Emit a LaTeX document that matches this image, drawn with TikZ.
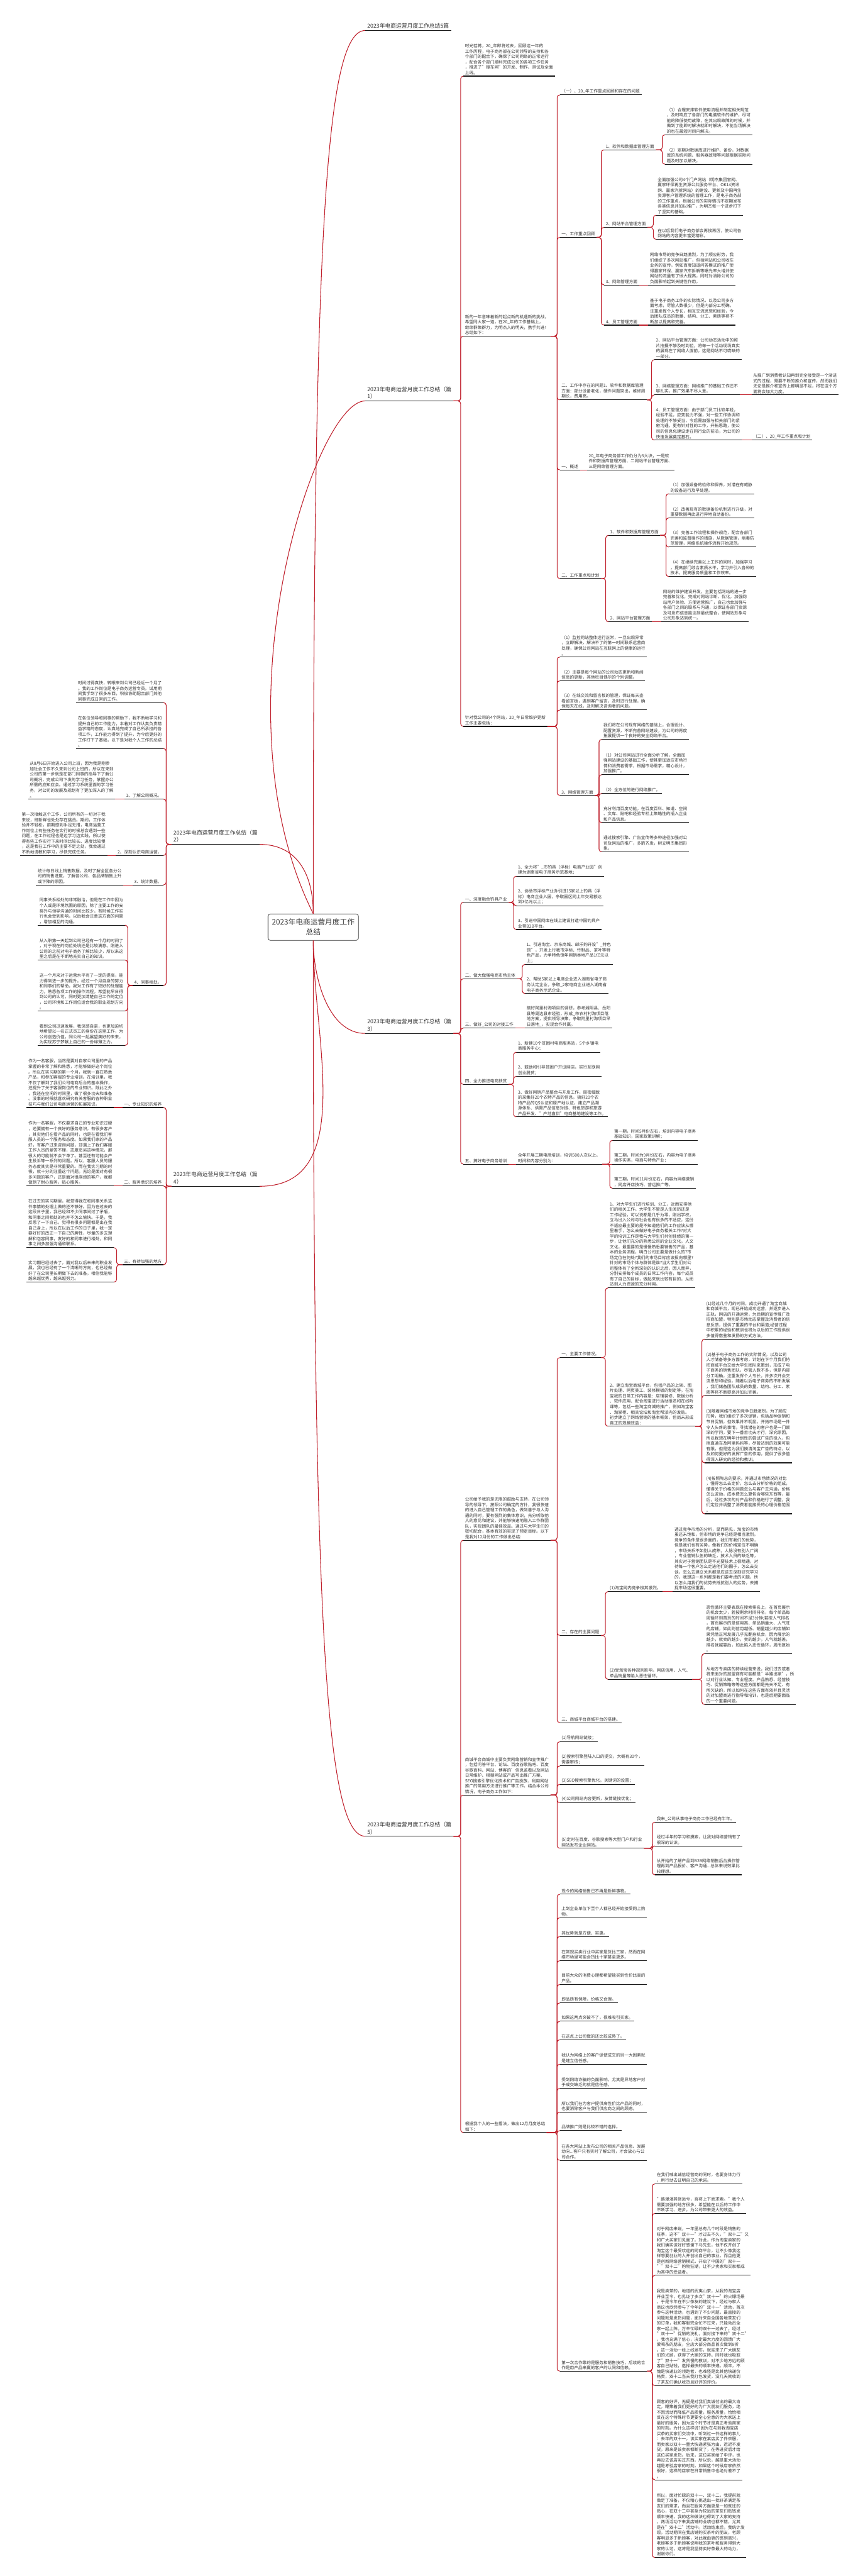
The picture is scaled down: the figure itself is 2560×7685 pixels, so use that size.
\documentclass[tikz,border=0pt]{standalone}
\usepackage{fontspec}
\setmainfont{Noto Sans CJK SC}
\usetikzlibrary{calc}
\definecolor{linkred}{RGB}{192,32,44}
\definecolor{inkgray}{RGB}{51,51,51}

\begin{document}
\begin{tikzpicture}[x=1pt, y=-1pt,
  hub/.style={draw=inkgray, line width=1.5pt, rounded corners=7pt, fill=white, align=center, font=\fontsize{22}{30}\selectfont, text=inkgray, minimum width=270pt, minimum height=79pt},
  part/.style={align=left, font=\fontsize{16.5}{22}\selectfont, text=inkgray, inner xsep=6pt, inner ysep=5pt},
  item/.style={align=left, font=\fontsize{12.5}{16}\selectfont, text=inkgray, inner xsep=5pt, inner ysep=4pt},
  rule/.style={draw=black!90, line width=2pt},
  link/.style={draw=linkred, line width=2pt, rounded corners=8pt},
]
\fill[white] (0,0) rectangle (2560,7685);
\useasboundingbox (0,0) rectangle (2560,7685);

% Root
\node[hub] (root) at (935,2766) {2023年电商运营月度工作\\总结};

% Main branches
\node[part, anchor=south west] (t0) at (1090,91) {2023年电商运营月度工作总结5篇};
\node[part, anchor=south west] (p1) at (1090,1196) {2023年电商运营月度工作总结（篇\\1）};
\node[part, anchor=south east] (p2) at (775,2519) {2023年电商运营月度工作总结（篇\\2）};
\node[part, anchor=south west] (p3) at (1090,3083) {2023年电商运营月度工作总结（篇\\3）};
\node[part, anchor=south east] (p4) at (775,3539) {2023年电商运营月度工作总结（篇\\4）};
\node[part, anchor=south west] (p5) at (1090,5478) {2023年电商运营月度工作总结（篇\\5）};

% Part 1
\node[item, anchor=south west] (a1) at (1383,227) {时光荏苒，20\_年即将过去，回顾这一年的\\工作历程，电子商务部在公司领导的支持和各\\个部门的配合下，确保了公司网络的正常运行\\，配合各个部门顺利完成公司的各项工作任务\\，推进了"搜车网"的开发、制作、测试及全面\\上线。};
\node[item, anchor=south west] (a2) at (1383,1003) {新的一年意味着新的起点新的机遇新的挑战，\\希望同大家一道，在20\_年的工作基础上，\\继续群策群力，为明杰人的明天，携手共进！\\总结如下：};
\node[item, anchor=south west] (a3) at (1383,2167) {针对我公司的4个网站，20\_年日常维护更新\\工作主要包括：};

\node[item, anchor=south west] (b1) at (1671,283) {（一）、20\_年工作重点回顾和存在的问题};
\node[item, anchor=south west] (b2) at (1671,708) {一、工作重点回顾};
\node[item, anchor=south west] (b3) at (1671,1193) {二、工作中存在的问题1、软件和数据库管理\\方面：部分设备老化，硬件问题突出，维修周\\期长，费用高。};
\node[item, anchor=south west] (b4) at (1671,1402) {一、概述};
\node[item, anchor=south west] (b5) at (1671,1726) {二、工作重点和计划};

\node[item, anchor=south west] (c1) at (1803,447) {1、软件和数据库管理方面};
\node[item, anchor=south west] (c2) at (1803,678) {2、网站平台管理方面};
\node[item, anchor=south west] (c3) at (1803,850) {3、网络管理方面};
\node[item, anchor=south west] (c4) at (1803,970) {4、员工管理方面};

\node[item, anchor=south west] (d1) at (1985,402) {（1）合理安排软件使用流程并制定相关规范\\，及时响应了各部门的电脑软件的维护，尽可\\能的降低使用故障，在其出现故障的时候，并\\做到了能即时解决就即时解决，不能当场解决\\的也在最短时间内解决。};
\node[item, anchor=south west] (d2) at (1985,490) {（2）定期对数据库进行维护、备份，对数据\\库的系统问题、服务器故障等问题根据实际问\\题及时加以解决。};
\node[item, anchor=south west] (d3) at (1958,642) {全面加强公司4个门户网站（明杰集团官网、\\赢家环保再生资源公共服务平台、OK14资讯\\网、赢家汽拆网站）的建设、更新及中国再生\\资源客户管理系统的管理工作，是电子商务部\\的工作重点，根据公司的实际情况不定期发布\\各类信息并加以推广，为明杰每一个进步打下\\了坚实的基础。};
\node[item, anchor=south west] (d4) at (1958,714) {在以后我们电子商务部会再接再厉，使公司各\\网站的内容更丰富更精彩。};
\node[item, anchor=south west] (d5) at (1935,850) {网络市场的竞争日趋激烈，为了顺应形势，我\\们组织了多次网站推广，包括网站和公司收车\\业务的宣传，例如百度知道问答模式的推广使\\得赢家环保、赢家汽车拆解等曝光率大增并使\\网站的流量有了很大提高，同时对消除公司的\\负面影响起到关键性作用。};
\node[item, anchor=south west] (d6) at (1935,970) {基于电子商务工作的实际情况，以及公司多方\\面考虑，尽管人数很少，但是内部分工明确，\\注重发挥个人专长，相互交流思想和经验，今\\后团队成员的数量、结构、分工、素质等将不\\断加以提高和完善。};

\node[item, anchor=south west] (d7) at (1953,1073) {2、网站平台管理方面：公司动态活动中的照\\片拍摄不够及时到位，将每一个活动现场真实\\的展现在了网络人面前，这是网站不可或缺的\\一部分。};
\node[item, anchor=south west] (d8) at (1953,1178) {3、网络管理方面：网络推广的基础工作还不\\够扎实，推广效果不尽人意。};
\node[item, anchor=south west] (d9) at (1953,1313) {4、员工管理方面：由于部门员工比较年轻，\\经验不足，应变能力不强，对一些工作协调和\\处理的不够妥当，今后需加强与相关部门的紧\\密沟通，更有针对性的工作，开拓思路，使公\\司的信息化建设走在同行业的前沿，为公司的\\快速发展奠定基石。};
\node[item, anchor=south west] (e1) at (2243,1178) {从推广到消费者认知再到完全接受是一个渐进\\式的过程，需要不断的推介和宣传，然而我们\\无论是推介和宣传上都明显不足，将在这个方\\面将会加大力度。};
\node[item, anchor=south west] (e2) at (2243,1313) {（二）、20\_年工作重点和计划};

\node[item, anchor=south west] (d10) at (1752,1402) {20\_年电子商务部工作仍分为3大块，一是软\\件和数据库管理方面、二网站平台管理方面、\\三是网络管理方面。};

\node[item, anchor=south west] (c5) at (1816,1597) {1、软件和数据库管理方面};
\node[item, anchor=south west] (c6) at (1816,1855) {2、网站平台管理方面};
\node[item, anchor=south west] (d11) at (1996,1473) {（1）加强设备的检修和保养，对潜在有威胁\\的设备进行及早处理。};
\node[item, anchor=south west] (d12) at (1996,1545) {（2）改善现有的数据备份机制进行升级，对\\重要数据再此进行异地自动备份。};
\node[item, anchor=south west] (d13) at (1996,1632) {（3）完善工作流程和操作规范，配合各部门\\完善和监督操作的措施，从数据管理，病毒防\\范管理，网络系统操作流程开始规范。};
\node[item, anchor=south west] (d14) at (1996,1720) {（4）在继续完善以上工作的同时，加强学习\\，提高部门综合素质水平，学习并引入各种的\\技术，提高服务质量和工作效率。};
\node[item, anchor=south west] (d15) at (1974,1855) {网站的维护建设开发，主要包括网站的进一步\\完善和优化，完成对网站诊断、优化，加强网\\站用户体验、方便运营推广，自己也会加强与\\各部门之间的联系与沟通，以保证各部门资源\\及可发布信息能达到最优整合，使网站形象与\\公司形象达到统一。};

\node[item, anchor=south west] (b6) at (1671,1960) {（1）监控网站整体运行正常，一旦出现异常\\，立即解决，解决不了的第一时间联系运营商\\处理，确保公司网站在互联网上的健康的运行\\。};
\node[item, anchor=south west] (b7) at (1671,2031) {（2）主要是每个网站的公司动态更新和新闻\\信息的更新，其他栏目偶尔的个别调整。};
\node[item, anchor=south west] (b8) at (1671,2118) {（3）在线交流和留言板的管理，保证每天查\\看留言板，遇到客户留言，及时进行处理，确\\保每天在线，及时解决咨询者的问题。};
\node[item, anchor=south west] (b9) at (1671,2373) {3、网络管理方面};
\node[item, anchor=south west] (c7) at (1796,2206) {我们将在公司现有网络的基础上，合理设计、\\配置资源，不断完善网站建设，为公司的再度\\拓展提供一个良好的安全网络平台。};
\node[item, anchor=south west] (c8) at (1796,2311) {（1）对公司网站进行全面分析了解，全面加\\强网站建设的基础工作，使其更加适应市场行\\情和消费者需求，根据市场需求，精心设计，\\加强推广。};
\node[item, anchor=south west] (c9) at (1796,2367) {（2）全方位的进行网络推广。};
\node[item, anchor=south west] (c10) at (1796,2454) {充分利用百度功能，在百度百科、知道、空间\\、文库、贴吧和经验专栏上策略性的插入企业\\和产品信息。};
\node[item, anchor=south west] (c11) at (1796,2541) {通过搜索引擎、广告宣传等多种途径加强对公\\司及网站的推广，多箭齐发，树立明杰集团形\\象。};

% Part 3
\node[item, anchor=south west] (a4) at (1383,2692) {一、深度融合钓具产业};
\node[item, anchor=south west] (a5) at (1383,2920) {二、做大做强电商市场主体};
\node[item, anchor=south west] (a6) at (1383,3067) {三、做好\_公司的对接工作};
\node[item, anchor=south west] (a7) at (1383,3235) {四、全力推进电商扶贫};
\node[item, anchor=south west] (a8) at (1383,3473) {五、搞好电子商务培训};
\node[item, anchor=south west] (b10) at (1541,2614) {1、全力将"\_市钓具（浮标）电商产业园"创\\建为湖南省电子商务示范基地；};
\node[item, anchor=south west] (b11) at (1541,2702) {2、协助市浮标产业办引进15家以上钓具（浮\\标）电商企业入园，争取园区网上年交易额达\\到3亿元以上；};
\node[item, anchor=south west] (b12) at (1541,2773) {3、引进中国网库在线上建设打造中国钓具产\\业带B2B平台。};
\node[item, anchor=south west] (b13) at (1567,2877) {1、引进淘宝、京东商城、邮乐购开设"\_特色\\馆"，开发上行我市浮标、竹制品、茶叶等特\\色产品，力争特色馆年网销本地产品1亿元以\\上；};
\node[item, anchor=south west] (b14) at (1567,2964) {2、帮助5家以上电商企业进入湖南省电子商\\务认定企业，争取\_2家电商企业进入湖南省\\电子商务示范企业。};
\node[item, anchor=south west] (b15) at (1567,3067) {搞好阿里村淘项目的调研，参考湘阴县、岳阳\\县等周边县市经验，形成\_市农村村淘项目落\\地方案，提供领导决策，争取阿里村淘项目早\\日落地\_，实现合作共赢。};
\node[item, anchor=south west] (b16) at (1541,3139) {1、新建10个贫困村电商服务站，5个乡镇电\\商服务中心；};
\node[item, anchor=south west] (b17) at (1541,3211) {2、鼓励和引导贫困户开设网店，实行互联网\\创业脱贫；};
\node[item, anchor=south west] (b18) at (1541,3332) {3、做好网销产品整合与开发工作，周密细致\\的采集好20个农特产品的信息，搞好20个农\\特产品的QS认证和原产地认证，建立产品溯\\源体系、供需产品信息对接、特色旅游和旅游\\产品开发、"产地直供"电商基地建设等工作。};
\node[item, anchor=south west] (b19) at (1541,3473) {全年开展三期电商培训，培训500人次以上。\\时间和内容分别为：};
\node[item, anchor=south west] (c12) at (1828,3402) {第一期，时间5月份左右，培训内容电子商务\\基础知识，国家政策讲解；};
\node[item, anchor=south west] (c13) at (1828,3473) {第二期，时间为9月份左右，内容为电子商务\\操作实务，电商与特色产业；};
\node[item, anchor=south west] (c14) at (1828,3545) {第三期，时间11月份左右，内容为网络营销\\，网店开店技巧、营运推广等。};

% Part 5
\node[item, anchor=south west] (a9) at (1383,4595) {公司给予我的是无限的鼓励与支持，在公司领\\导的领导下，按照公司确定的方针，我很快速\\的进入自己管理工作的角色，做到善于与人沟\\通的同时，要有强烈的集体意识，充分听取他\\人的意见和建议，并能够快速地融入工作群团\\队，实现团队的最佳效益。通过与大学生们的\\密切配合，基本有效的实现了预定目标。以下\\是我对12月份的工作做出总结：};
\node[item, anchor=south west] (a10) at (1383,5355) {商城平台商城中主要负责网络营销和宣传推广\\，包括问答平台、论坛、百度谷歌贴吧、百度\\谷歌百科、网站、博客的'信息监看以及网站\\日常维护、根据网站或产品写出推广方案、\\SEO搜索引擎优化技术和广告投放、利用网站\\推广的常用方法进行推广等工作。结合本公司\\情况，电子商务工作如下：};
\node[item, anchor=south west] (a11) at (1383,6362) {根据我个人的一些看法，做出12月月度总结\\如下：};

\node[item, anchor=south west] (b20) at (1671,4050) {一、主要工作情况。};
\node[item, anchor=south west] (b21) at (1671,4879) {二、存在的主要问题};
\node[item, anchor=south west] (b22) at (1671,5139) {三、商城平台商城平台的搭建。};
\node[item, anchor=south west] (c15) at (1815,3842) {1、对大学生们进行培训、分工，近而安排他\\们的相关工作。大学生不管是人生阅历还是\\工作经验，可以说都是几乎为零，刚出学校，\\立马出入公司与社会也有很多的不适应，这份\\不适应最主要的是不知道他们的工作应该从哪\\里着手，怎么去做好电子商务相关工作?对大\\学的培训工作是我与大学生们共创佳绩的第一\\步，让他们充分的熟悉公司的企业文化，人文\\文化，最重要的是慢慢熟悉要销售的产品，基\\本的业务流程，明白公司主要是做什么的?市\\场定位在何处?我们的市场目标应该投向哪里?\\针对的市场个体与群体是谁?当大学生们对公\\司整体有了全新深刻的认识之后，因人而异，\\分别安排每个成员的日常工作内容，每个成员\\有了自己的目标，做起来就比较有目的，从而\\达到人力资源的充分利用。};
\node[item, anchor=south west] (c16) at (1815,4255) {2、建立淘宝商城平台，包括产品的上架、图\\片处理、网页美工、装修模板的制定等。在淘\\宝我的日常工作内容是：店铺装修、数据分析\\、软件应用、配合淘宝进行活动报名和在线听\\课等，包括一些淘宝商城的推广，例如淘宝客\\、淘掌柜、相关论坛和淘宝帮派内的发贴。\\初步建立了网络营销的基本框架，但尚未形成\\真正的规模效益：};
\node[item, anchor=south west] (d16) at (2103,3995) {(1)经过几个月的时间，成功开通了淘宝商城\\和商城平台，现已开始成功运营，并逐步进入\\正轨，网店的开通运营，为后期的宣传推广及\\招商加盟，特别是市场动态掌握及消费者的信\\息反馈，提供了重要的平台和渠道;经营过程\\中积累的经验和教训也将为以后的工作提供很\\多值得借鉴和发扬的方式方法。};
\node[item, anchor=south west] (d17) at (2103,4163) {(2)基于电子商务工作的实际情况，以及公司\\人才储备等多方面考虑，计划在下个月我们将\\把商城平台交给大学生团队来策划，形成了电\\子商务的销售团队，尽管人数不多，但是内部\\分工明确，注重发挥个人专长，并多次开会交\\流思想和经验。随着以后电子商务的不断发展\\，我们储备团队成员的数量、结构、分工、素\\质等将不断提高并加以完善。};
\node[item, anchor=south west] (d18) at (2103,4364) {(3)随着网络市场的竞争日趋激烈，为了顺应\\形势，我们组织了多次促销，包括品种促销和\\节日促销，但效果并不明显。开拓市场是一件\\令人头疼的事情，寻找潜在的客户也是一门颇\\深的学问，要下一番苦功夫才行，深究原因，\\所以我想在明年计划性的尝试广告的投入，包\\括直通车及阿里妈妈等，尽管达到的效果可能\\有限，但是这为我们摸清淘宝广告的特点，以\\及如何更好的发挥广告的作用，提供了很多值\\得深入研究的经验和教训。};
\node[item, anchor=south west] (d19) at (2103,4516) {(4)按照陶总的要求，并通过市场情况的对比\\，懂得怎么去定价，怎么去分析价格的组成，\\懂得关于价格的问题怎么与客户去沟通，价格\\怎么波动，成本费怎么算包含哪些东西等，最\\后，经过多次的对产品和价格进行了调整，我\\们定位并调整了消费者能接受的心理价格范围\\。};
\node[item, anchor=south west] (c17) at (1815,4748) {(1)淘宝网内竞争极其激烈。};
\node[item, anchor=south west] (c18) at (1815,5010) {(2)受淘宝各种规则影响，网店信用、人气、\\单品销量等陷入恶性循环。};
\node[item, anchor=south west] (d20) at (2008,4748) {透过竞争市场的分析，显而易见，淘宝的市场\\虽还未饱和，但市场的竞争已经是相当激烈。\\竞争的条件是很多面的，我们有我们的优势，\\但是我们也有劣势，像我们的价格定位不明确\\，市场关系不如别人成熟，人脉没有别人广阔\\，专业营销队伍的缺乏，技术人员的缺乏等，\\其实对于营销团队是不光要技术上很精通，对\\待每一个客户怎么走进他们的圈子，怎么去交\\谈，怎么去建立关系都是应该去深刻研究学习\\的，我想这一系列都是我们要考虑的问题，所\\以怎么用我们的优势去抵抗别人的劣势，去捕\\捉市场这很重要。};
\node[item, anchor=south west] (d21) at (2103,4933) {恶性循环主要表现在搜索排名上，在首页展示\\的机会太少，若按剩余时间排名，每个单品每\\周循环到首页的时间不足3分钟;若按人气排名\\，首页展示的是信用高、单品销量大、人气旺\\的店铺，如此则信用越低、销量越少的店铺如\\果凭借正常发展几乎无翻身机会，因为展示的\\越少，就卖的越少，卖的越少，人气就越差，\\排名就越靠后，如此陷入恶性循环，周而复始\\。};
\node[item, anchor=south west] (d22) at (2103,5085) {从地方专卖店的持续经营来说，我们过去或者\\将来面对的加盟商有可能都是"半路出家"，所\\以对行业认知、专业程度、产品熟悉、经营技\\巧、促销策略等等这些方面都是先天不足、有\\所欠缺的，所以如何在这些方面有效并且灵活\\的对加盟商进行指导和培训，也是后期要面临\\的一个重要问题。};

\node[item, anchor=south west] (b23) at (1671,5196) {(1)导航网站链接；};
\node[item, anchor=south west] (b24) at (1671,5268) {(2)搜索引擎登陆入口的提交，大概有30个，\\需要审核；};
\node[item, anchor=south west] (b25) at (1671,5323) {(3)SEO搜索引擎优化，关键词的设置；};
\node[item, anchor=south west] (b26) at (1671,5378) {(4)公司网站内容更新，友情链接优化；};
\node[item, anchor=south west] (b27) at (1671,5514) {(5)定时在百度、谷歌搜索等大型门户和行业\\网站发布企业网站。};
\node[item, anchor=south west] (c19) at (1955,5436) {我来\_公司从事电子商务工作已经有半年。};
\node[item, anchor=south west] (c20) at (1955,5507) {经过半年的学习和摸索，让我对网络营销有了\\很深的认识。};
\node[item, anchor=south west] (c21) at (1955,5593) {从开始的了解产品到B2B网络销售后台操作管\\理再到产品报价、客户沟通...总体来说效果比\\较理想。};

\node[item, anchor=south west] (b28) at (1671,5651) {现今的网络销售已不再是新鲜事物。};
\node[item, anchor=south west] (b29) at (1671,5721) {上到企业单位下至个人都已经开始接受网上购\\物。};
\node[item, anchor=south west] (b30) at (1671,5777) {其优势就是方便、实惠。};
\node[item, anchor=south west] (b31) at (1671,5849) {在常规买卖行业中买家是货比三家，然而在网\\络市场里可能会货比十家甚至更多。};
\node[item, anchor=south west] (b32) at (1671,5920) {目前大众的消费心理都希望能买到性价比高的\\产品。};
\node[item, anchor=south west] (b33) at (1671,5975) {即品质有保障，价格又合理。};
\node[item, anchor=south west] (b34) at (1671,6030) {如果这两点突破不了，很难吸引买家。};
\node[item, anchor=south west] (b35) at (1671,6085) {在这点上公司做的还比较成熟了。};
\node[item, anchor=south west] (b36) at (1671,6158) {我认为网络上的客户促使成交的另一大因素就\\是建立信任感。};
\node[item, anchor=south west] (b37) at (1671,6230) {受到网络诈骗的负面影响，尤其是异地客户对\\于成交缺乏的就是信任感。};
\node[item, anchor=south west] (b38) at (1671,6301) {所以我们在为客户提供高性价比产品的同时，\\也要消除客户与我们供应商之间的顾虑。};
\node[item, anchor=south west] (b39) at (1671,6356) {品牌推广则是比较不错的选择。};
\node[item, anchor=south west] (b40) at (1671,6445) {在各大网站上发布公司的相关产品信息、发展\\动向...客户只有实时了解公司，才会放心与公\\司合作。};
\node[item, anchor=south west] (b41) at (1671,7074) {第一次合作靠的是服务和销售技巧，后续的合\\作是用产品来赢的客户的认同和信赖。};
\node[item, anchor=south west] (c22) at (1955,6515) {在我们喊出诚信经营商的同时，也要身体力行\\，用行动去证明自己的承诺。};
\node[item, anchor=south west] (c23) at (1955,6603) {"路漫漫其修远兮，吾将上下而求索。"我个人\\需要加强的地方很多，希望能在以后的工作中\\不断学习、进步。为公司带来更大的效益。};
\node[item, anchor=south west] (c24) at (1955,6788) {对于网店来说，一年里总有几个时段是销售的\\旺季，这不"双十一"才过去不久，"双十二"又\\和广大买家们见面了。对此，作为淘宝卖家的\\我们确实该好好感谢下马先生，他不仅开创了\\淘宝这个最受欢迎的网商平台，让不少像我这\\样想要创业的人开创出自己的事业，而且他更\\是创新网络营销模式，开启了中国的"双十一\\""双十二"购物狂潮，让不少卖家和买家都成\\为其中的受益者。};
\node[item, anchor=south west] (c25) at (1955,7117) {我是卖茶的，地道的武夷山茶，从我的淘宝店\\开业至今，也见证了多次"双十一"的火爆场景\\，于是今年在不少茶友的建议下，经过与家人\\商议也欣然参与了今年的"双十一"活动，首次\\参与这种活动，也遇到了不少问题，最直接的\\问题就是发货问题，面对来自全国各地茶友们\\的订单，我和客服完全忙不过来，只能动员全\\家一起上阵。万辛忙碌的双十一过去了，经过\\"双十一"促销的洗礼，面对接下来的"双十二"\\，我也充满了信心，决定最大力度的回馈广大\\爱喝茶的朋友，全店大部分商品首次做到8折\\。这一活动一经上线发布，就迎来了广大朋友\\们的光顾，获得了大家的支持。同时我也吸取\\了"双十一"发货慢的教训，对不少地方远的顾\\客自己贴钱，选择最快的顺丰快递。顺丰，不\\愧是快递业的领跑者，也难怪是比其他快递价\\格贵，双十二当天我打包发货，没几天就收到\\了茶友们确认收货且好评的评价。};
\node[item, anchor=south west] (c26) at (1955,7398) {顾客的好评，无疑是对我们真诚付出的最大肯\\定，鞭策着我们更好的为广大朋友们服务，绝\\不因活动而降低产品质量，服务质量，恰恰相\\反在这个特殊时节更要全心全意的为大家送上\\最好的服务，因为这个时节才是真正考验商家\\的时刻。为什么这样说?因为在与到我淘宝店\\买茶的买家们交流中，听到过一件这样的事儿\\：去年的双十一，该买家在某店买了件衣服，\\而卖家以双十一量大快递紧张为由，迟迟不发\\货，原来是该卖家都断货了，在等进货后才给\\这位买家发货。后来，这位买家给了中评，也\\再没去该店买过东西。所以说，越是重大活动\\越是考验店家的时刻，如果这个时候店家依然\\很好，这样的店家在日常销售中也绝对差不了\\。};
\node[item, anchor=south west] (c27) at (1955,7630) {所以，面对忙碌的双十一、双十二，我提前就\\做足了准备，不仅精心挑选出一批好茶满足茶\\友们的需求，而且在服务方面更是一如既往的\\贴心，在双十二中甚至为较远的茶友们贴钱发\\顺丰快递，我的这种做法也得到了大家的支持\\，两场活动下来我店铺的业绩也都不错，尤其\\是在"双十二"活动中。活动结束后，我统计发\\现，活动期间在我店铺购买茶叶的朋友，老顾\\客明显多于新顾客，对此我由衷的感到高兴，\\老顾客多于新顾客说明我的茶叶和服务得到大\\家的认可，这将是我坚持卖好茶最大的动力，\\谢谢你们。};

% Part 2 (left)
\node[item, anchor=south east] (l1) at (488,2096) {时间过得真快，转眼来到公司已经近一个月了\\。我的工作岗位是电子商务运营专员。试用期\\间我学到了很多东西，积极协助配合部门其他\\同事完成日常的工作。};
\node[item, anchor=south east] (l2) at (488,2233) {在各位领导和同事的帮助下，我不断地学习和\\提升自己的工作能力，本着对工作认真负责精\\益求精的态度，认真地完成了自己所承担的各\\项工作，工作能力得到了提升，为今后更好的\\工作打下了基础，以下是对我个人工作的总结\\。};
\node[item, anchor=south east] (l3) at (488,2384) {1、了解公司概况。};
\node[item, anchor=south east] (l4) at (488,2552) {2、深刻认识电商运营。};
\node[item, anchor=south east] (l5) at (488,2640) {3、统计数据。};
\node[item, anchor=south east] (l6) at (488,2940) {4、同事相处。};
\node[item, anchor=south east] (l7) at (344,2384) {从8月6日开始进入公司上班，因为我是刚参\\加社会工作不久来到公司上班的，所以在来到\\公司的第一步就是在部门同事的指导下了解公\\司概况，完成公司下发的学习任务，掌握办公\\所需的应知应会。通过学习系统里面的学习任\\务，对公司的发展及规划有了更加深入的了解\\。};
\node[item, anchor=south east] (l8) at (320,2552) {第一次接触这个工作，公司所有的一切对于我\\来说，既新鲜也处处存在挑战。期间，工作体\\验并不轻松，前期感到手足无措，电商运营工\\作岗位上有些任务在实行的时候总会遇到一些\\问题，在工作过程也是边学习边实践，所以使\\得有些工作实行下来时间比较长、进度比较慢\\，这是我在工作中的主要不足之处，我会通过\\不断地请教和学习，尽快完成任务。};
\node[item, anchor=south east] (l9) at (368,2640) {统计每日线上销售数据，及时了解全区各分公\\司的销售进度，了解各公司、各品牌销售上升\\或下降的原因。};
\node[item, anchor=south east] (l10) at (373,2760) {同事关系相处的非常融洽，但是在工作中因为\\个人或是环境氛围的原因，除了主要工作的安\\排外与领导沟通的时间比较少，有时候工作实\\行也会受到影响，以后我会注意这方面的问题\\，增加相互的沟通。};
\node[item, anchor=south east] (l11) at (373,2864) {从入职第一天起到公司已经有一个月的时间了\\，对于现在的岗位处境还是比较满意。刚进入\\公司的之前对电子商务了解比较少，所以来这\\里之后是在不断地充实自己的知识。};
\node[item, anchor=south east] (l12) at (373,3016) {这一个月来对于运营水平有了一定的提高，能\\力得到进一步的提升。经过一个月自身的努力\\和同事们的帮助，我对工作有了较好的处理能\\力，熟悉各项工作的操作流程，希望能早日得\\到公司的认可。同时更加清楚自己工作的定位\\，公司环境和工作岗位适合我的职业规划方向\\。};
\node[item, anchor=south east] (l13) at (373,3119) {看到公司迅速发展，我深感自豪，也更加迫切\\地希望以一名正式员工的身份在这里工作，为\\公司创造价值，同公司一起展望美好的未来，\\为实现苏宁梦献上自己的一份绵薄之力。};

% Part 4 (left)
\node[item, anchor=south east] (l14) at (488,3304) {一、专业知识的培养};
\node[item, anchor=south east] (l15) at (488,3538) {二、服务意识的培养};
\node[item, anchor=south east] (l16) at (488,3773) {三、有待加强的地方};
\node[item, anchor=south east] (l17) at (340,3304) {作为一名客服，当然是要对自家公司里的产品\\掌握的非常了解和熟悉，才能够做好这个岗位\\。所以在实习期的第一个月，我就一直在熟悉\\产品，和参加客服的专业培训。在培训里，我\\不仅了解到了我们公司电商后台的基本操作，\\还提升了关于客服岗位的专业知识。除此之外\\，我还在空闲的时间里，做了很多功夫和准备\\。没事的时候就喜欢研究有关客服的各种职业\\技巧与我们公司电商运营的拓展知识。};
\node[item, anchor=south east] (l18) at (340,3538) {作为一名客服，不仅要求自己的专业知识过硬\\，还要拥有一个良好的服务意识。有很多客户\\，其实他们在看产品的同时，也是在看我们客\\服人员的一个服务和态度。如果我们家的产品\\好，有客户过来咨询问题，却遇上了我们客服\\工作人员的爱答不理，态度恶劣这种情况，那\\很大的可能就不会下单了。甚至还有可能会产\\生投诉等一系列的问题。所以，客服人员的服\\务态度其实是非常重要的。而在我实习期的时\\候，就十分的注重这个问题。无论是面对有很\\多问题的客户，还是面对很麻烦的客户，我都\\做到了耐心服务，贴心服务。};
\node[item, anchor=south east] (l19) at (340,3722) {在过去的实习期里，我觉得我在和同事关系这\\件事情的处理上做的还不够好。因为在过去的\\这段日子里，我已经和不少同事闹过了矛盾，\\和同事之间相处的也并不怎么愉快。于是，我\\反思了一下自己，觉得有很多问题都是出在我\\自己身上，所以在以后工作的日子里，我一定\\要好好的改正一下自己的脾性，尽量的多去理\\解和包容同事，友好的和同事进行相处，和同\\事之间多加强沟通和联系。};
\node[item, anchor=south east] (l20) at (340,3825) {实习期已经过去了，面对我以后未来的职业发\\展，我也已经有了一个清晰的方向，也已经做\\好了在公司里长期做下去的准备，相信我能够\\越来越优秀，越来越努力。};

% Underlines
\foreach \n in {t0,p1,p2,p3,p4,p5,a1,a2,a3,a4,a5,a6,a7,a8,a9,a10,a11,
  b1,b2,b3,b4,b5,b6,b7,b8,b9,b10,b11,b12,b13,b14,b15,b16,b17,b18,b19,b20,b21,b22,b23,b24,b25,b26,b27,b28,b29,b30,b31,b32,b33,b34,b35,b36,b37,b38,b39,b40,b41,
  c1,c2,c3,c4,c5,c6,c7,c8,c9,c10,c11,c12,c13,c14,c15,c16,c17,c18,c19,c20,c21,c22,c23,c24,c25,c26,c27,
  d1,d2,d3,d4,d5,d6,d7,d8,d9,d10,d11,d12,d13,d14,d15,d16,d17,d18,d19,d20,d21,d22,e1,e2,
  l1,l2,l3,l4,l5,l6,l7,l8,l9,l10,l11,l12,l13,l14,l15,l16,l17,l18,l19,l20}
  \draw[rule] (\n.south west) -- (\n.south east);

% Root to main branches
\draw[link] (root.north) .. controls +(0,-2000) and +(-120,0) .. (t0.south west);
\draw[link] (root.north) .. controls +(-300,-600) and +(-150,0) .. (p1.south west);
\draw[link] (root.north) .. controls +(0,-120) and +(110,0) .. (p2.south east);
\draw[link] (root.south) .. controls +(0,110) and +(-110,0) .. (p3.south west);
\draw[link] (root.south) .. controls +(0,290) and +(290,0) .. (p4.south east);
\draw[link] (root.south) .. controls +(0,2000) and +(-120,0) .. (p5.south west);

% Right-hand connectors
\foreach \pa/\ch in {p1/a1,p1/a2,p1/a3,a2/b1,a2/b2,a2/b3,a2/b4,a2/b5,
  b2/c1,b2/c2,b2/c3,b2/c4,c1/d1,c1/d2,c2/d3,c2/d4,b3/d7,b3/d8,b3/d9,
  b5/c5,b5/c6,c5/d11,c5/d12,c5/d13,c5/d14,a3/b6,a3/b7,a3/b8,a3/b9,
  b9/c7,b9/c8,b9/c9,b9/c10,b9/c11,
  p3/a4,p3/a5,p3/a6,p3/a7,p3/a8,a4/b10,a4/b11,a4/b12,a5/b13,a5/b14,
  a7/b16,a7/b17,a7/b18,b19/c12,b19/c14,
  p5/a9,p5/a10,p5/a11,a9/b20,a9/b21,a9/b22,b20/c15,b20/c16,
  c16/d16,c16/d17,c16/d18,c16/d19,b21/c17,b21/c18,c18/d21,c18/d22,
  a10/b23,a10/b24,a10/b25,a10/b26,a10/b27,b27/c19,b27/c20,b27/c21,
  a11/b28,a11/b29,a11/b30,a11/b31,a11/b32,a11/b33,a11/b34,a11/b35,a11/b36,a11/b37,a11/b38,a11/b39,a11/b40,a11/b41,
  b41/c22,b41/c23,b41/c24,b41/c25,b41/c26,b41/c27}
  \draw[link] (\pa.south east) -| ([xshift=-8pt]\ch.south west) -- (\ch.south west);
\foreach \pa/\ch in {c3/d5,c4/d6,d8/e1,d9/e2,b4/d10,c6/d15,a6/b15,a8/b19,b19/c13,c17/d20}
  \draw[link] (\pa.south east) -- (\ch.south west);

% Left-hand connectors
\foreach \pa/\ch in {p2/l1,p2/l2,p2/l3,p2/l4,p2/l5,p2/l6,l6/l10,l6/l11,l6/l12,l6/l13,
  p4/l14,p4/l15,p4/l16,l16/l19,l16/l20}
  \draw[link] (\pa.south west) -| ([xshift=8pt]\ch.south east) -- (\ch.south east);
\foreach \pa/\ch in {l3/l7,l4/l8,l5/l9,l14/l17,l15/l18}
  \draw[link] (\pa.south west) -- (\ch.south east);
\end{tikzpicture}
\end{document}
